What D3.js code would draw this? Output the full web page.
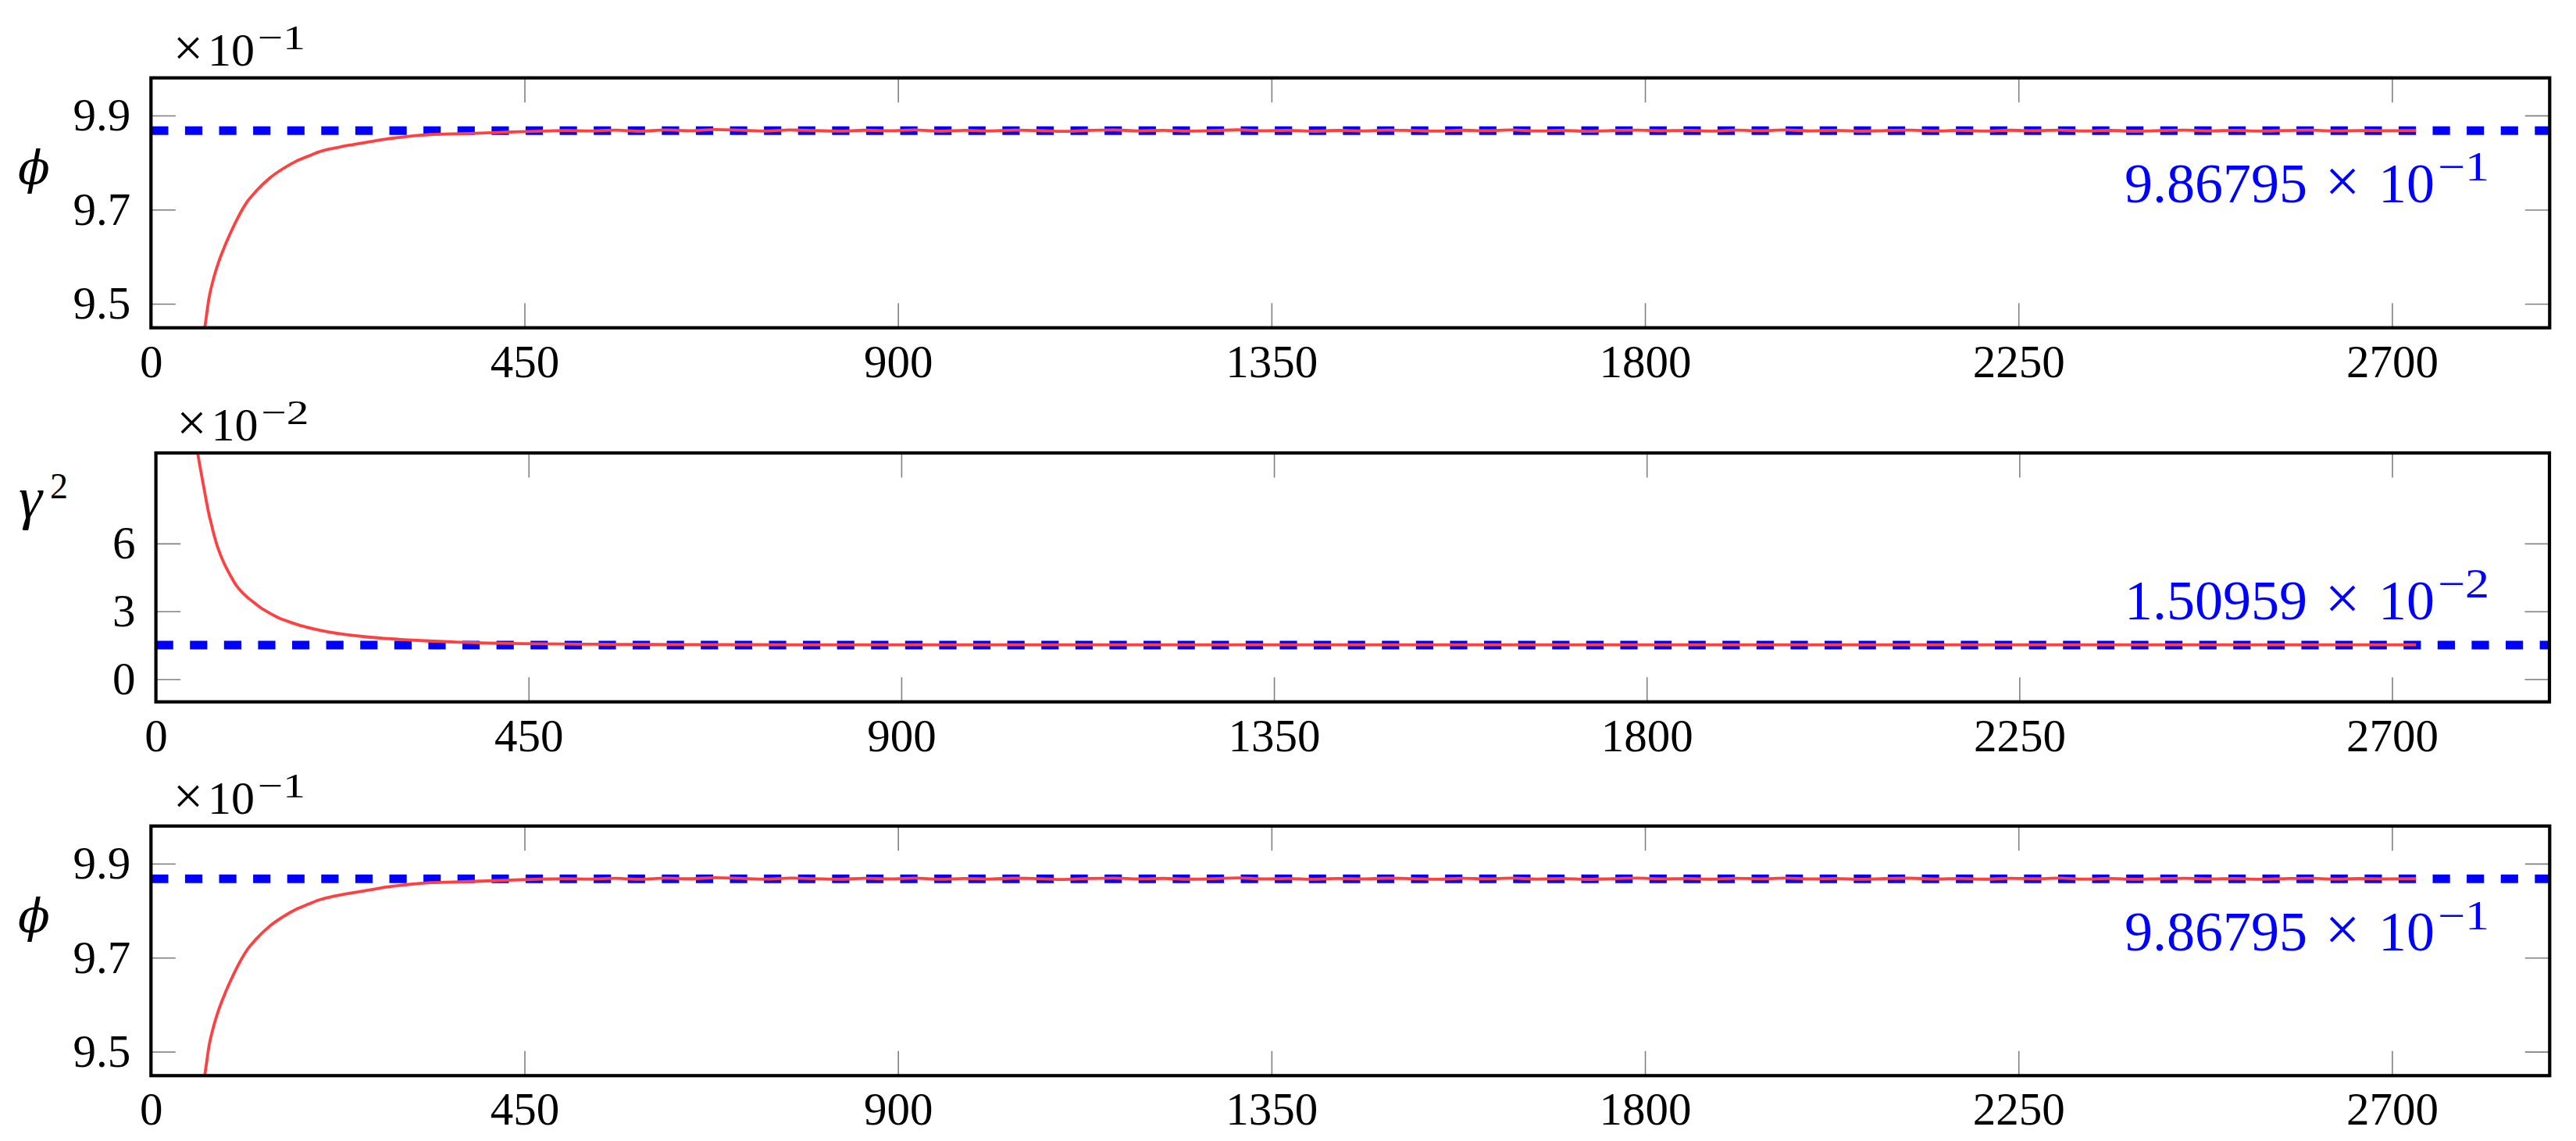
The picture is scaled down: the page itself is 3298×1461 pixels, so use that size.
<!DOCTYPE html>
<html>
<head>
<meta charset="utf-8">
<script src="https://cdn.jsdelivr.net/npm/d3@7"></script>
<style>
html,body{margin:0;padding:0;background:#fff;}
svg{display:block;}
</style>
</head>
<body>
<svg id="chart" width="3298" height="1461"></svg>
<script>
// ---------------- data ----------------
const xTicks = [0, 450, 900, 1350, 1800, 2250, 2700];
const xTickLabels = ["0", "450", "900", "1350", "1800", "2250", "2700"];
const xDomain = [0, 2890];

const phiTicks = [9.5, 9.7, 9.9];
const phiTickLabels = ["9.5", "9.7", "9.9"];
const phiDomain = [9.449, 9.980];
const phiRef = 9.86795;   // x 10^-1
const phiExp = "−1";

const gammaTicks = [0, 3, 6];
const gammaTickLabels = ["0", "3", "6"];
const gammaDomain = [-1, 10];
const gammaRef = 1.50959; // x 10^-2
const gammaExp = "−2";

// phi (x 10^-1) vs iteration
const phiX = [62, 65, 70, 75, 81, 89, 97, 105, 116, 127, 143, 159, 175, 190, 202, 216, 229, 243, 256, 270,
  283, 297, 310, 324, 337, 364, 391, 418, 445, 472, 500, 530, 560, 590, 620, 650, 680, 710, 740, 770,
  800, 830, 860, 890, 920, 950, 980, 1010, 1040, 1070, 1100, 1130, 1160, 1190, 1220, 1250, 1280, 1310, 1340, 1370,
  1400, 1430, 1460, 1490, 1520, 1550, 1580, 1610, 1640, 1670, 1700, 1730, 1760, 1790, 1820, 1850, 1880, 1910, 1940, 1970,
  2000, 2030, 2060, 2090, 2120, 2150, 2180, 2210, 2240, 2270, 2300, 2330, 2360, 2390, 2420, 2450, 2480, 2510, 2540, 2570,
  2600, 2630, 2660, 2690, 2729];
const phiY = [9.420, 9.452, 9.513, 9.551, 9.586, 9.623, 9.655, 9.684, 9.717, 9.740, 9.767, 9.787, 9.803, 9.814, 9.8225, 9.829, 9.8336, 9.838, 9.842, 9.846,
  9.850, 9.853, 9.8557, 9.858, 9.8596, 9.861, 9.8624, 9.864, 9.8657, 9.867, 9.8680, 9.8672, 9.8688, 9.8666, 9.8692, 9.8678, 9.8702, 9.8688, 9.8670, 9.8692,
  9.8680, 9.8668, 9.8687, 9.8676, 9.8693, 9.8667, 9.8684, 9.8673, 9.8690, 9.8679, 9.8664, 9.8683, 9.8693, 9.8674, 9.8686, 9.8669, 9.8680, 9.8696, 9.8676, 9.8685,
  9.8667, 9.8683, 9.8674, 9.8690, 9.8680, 9.8668, 9.8687, 9.8677, 9.8692, 9.8672, 9.8685, 9.8665, 9.8680, 9.8691, 9.8675, 9.8684, 9.8669, 9.8688, 9.8677, 9.8693,
  9.8674, 9.8685, 9.8667, 9.8682, 9.8690, 9.8673, 9.8684, 9.8669, 9.8687, 9.8678, 9.8691, 9.8671, 9.8683, 9.8667, 9.8680, 9.8689, 9.8674, 9.8684, 9.8668, 9.8680,
  9.8688, 9.8672, 9.8682, 9.8676, 9.8680];

// gamma^2 (x 10^-2) vs iteration
const gammaX = [46, 50.7, 54, 57, 60, 64, 67, 70, 74, 78, 82, 86, 90, 97, 103, 111, 118, 127, 137, 148,
  160, 175, 190, 208, 230, 252, 275, 300, 330, 360, 400, 441, 490, 549, 600, 657, 720, 793, 900, 1000,
  1100, 1200, 1300, 1400, 1500, 1600, 1700, 1800, 1900, 2000, 2100, 2200, 2300, 2400, 2500, 2600, 2729];
const gammaY = [11.20, 9.95, 9.25, 8.65, 8.05, 7.30, 6.85, 6.40, 5.90, 5.50, 5.15, 4.85, 4.58, 4.15, 3.88, 3.60, 3.40, 3.15, 2.93, 2.72,
  2.55, 2.37, 2.23, 2.09, 1.97, 1.88, 1.81, 1.75, 1.69, 1.645, 1.60, 1.575, 1.555, 1.542, 1.535, 1.530, 1.527, 1.525, 1.523, 1.524,
  1.522, 1.524, 1.523, 1.525, 1.522, 1.524, 1.523, 1.525, 1.522, 1.524, 1.523, 1.524, 1.522, 1.525, 1.523, 1.524, 1.524];

// ---------------- layout ----------------
const FONT = "'Liberation Serif', 'DejaVu Serif', serif";
const svg = d3.select("#chart");
svg.append("rect").attr("width", 3298).attr("height", 1461).attr("fill", "#fff");

const panels = [
  { id: "p1", left: 193.3, right: 3264.3, top: 99.7, bottom: 419.7,
    xs: phiX, ys: phiY, domain: phiDomain, ticks: phiTicks, tickLabels: phiTickLabels,
    ref: phiRef, exp: phiExp, label: "phi",
    mult: { x: 241, base: 83.5, sup: 63 },
    ann: { base: 258.5, sup: 231 },
    ylab: { base: 236 } },
  { id: "p2", left: 199.6, right: 3264.0, top: 580, bottom: 898.7,
    xs: gammaX, ys: gammaY, domain: gammaDomain, ticks: gammaTicks, tickLabels: gammaTickLabels,
    ref: gammaRef, exp: gammaExp, label: "gamma",
    mult: { x: 245.5, base: 564.3, sup: 543 },
    ann: { base: 793, sup: 765 },
    ylab: { base: 663, sup: 638 } },
  { id: "p3", left: 193.3, right: 3264.3, top: 1057.7, bottom: 1377.3,
    xs: phiX, ys: phiY, domain: phiDomain, ticks: phiTicks, tickLabels: phiTickLabels,
    ref: phiRef, exp: phiExp, label: "phi",
    mult: { x: 241, base: 1041.7, sup: 1020.7 },
    ann: { base: 1216.5, sup: 1190 },
    ylab: { base: 1194 } }
];

const TICK = 31.5;

panels.forEach(p => {
  const g = svg.append("g");
  const x = d3.scaleLinear().domain(xDomain).range([p.left, p.right]);
  const y = d3.scaleLinear().domain(p.domain).range([p.bottom, p.top]);

  g.append("clipPath").attr("id", "clip-" + p.id)
    .append("rect").attr("x", p.left).attr("y", p.top)
    .attr("width", p.right - p.left).attr("height", p.bottom - p.top);

  // axes (ticks inside, gray)
  const styleAxis = sel => {
    sel.attr("font-family", FONT);
    sel.select(".domain").remove();
    sel.selectAll(".tick line").attr("stroke", "#808080").attr("stroke-width", 1.6);
    sel.selectAll(".tick text").attr("fill", "#000").attr("font-family", FONT).attr("font-size", 59);
  };
  g.append("g").attr("transform", `translate(0,${p.bottom})`)
    .call(d3.axisBottom(x).tickValues(xTicks).tickFormat((d, i) => xTickLabels[i]).tickSize(-TICK).tickPadding(21))
    .call(styleAxis);
  g.append("g").attr("transform", `translate(0,${p.top})`)
    .call(d3.axisTop(x).tickValues(xTicks).tickFormat("").tickSize(-TICK))
    .call(styleAxis);
  g.append("g").attr("transform", `translate(${p.left},0)`)
    .call(d3.axisLeft(y).tickValues(p.ticks).tickFormat((d, i) => p.tickLabels[i]).tickSize(-TICK).tickPadding(26))
    .call(styleAxis);
  g.append("g").attr("transform", `translate(${p.right},0)`)
    .call(d3.axisRight(y).tickValues(p.ticks).tickFormat("").tickSize(-TICK))
    .call(styleAxis);

  const plot = g.append("g").attr("clip-path", `url(#clip-${p.id})`);
  const refLine = d3.line().x(d => x(d[0])).y(d => y(d[1]));
  const dataLine = d3.line().x(d => x(d[0])).y(d => y(d[1])).curve(d3.curveMonotoneX);

  // reference dashed line
  plot.append("path")
    .datum([[xDomain[0], p.ref], [xDomain[1], p.ref]])
    .attr("d", refLine)
    .attr("fill", "none").attr("stroke", "#0000ff").attr("stroke-width", 11)
    .attr("stroke-dasharray", "22.2,21.4");

  // data line
  const pts = p.xs.map((v, i) => [v, p.ys[i]]);
  plot.append("path")
    .datum(pts)
    .attr("d", dataLine)
    .attr("fill", "none").attr("stroke", "#ff4040").attr("stroke-width", 3.8)
    .attr("stroke-linejoin", "round");

  // frame
  g.append("rect").attr("x", p.left).attr("y", p.top)
    .attr("width", p.right - p.left).attr("height", p.bottom - p.top)
    .attr("fill", "none").attr("stroke", "#000").attr("stroke-width", 4.2);

  // multiplier  ×10^-n
  g.append("text").attr("x", p.mult.x).attr("y", p.mult.base)
    .attr("text-anchor", "middle").attr("font-family", FONT).attr("font-size", 68).text("×");
  g.append("text").attr("x", p.mult.x + 25).attr("y", p.mult.base)
    .attr("font-family", FONT).attr("font-size", 60).text("10");
  g.append("text").attr("x", p.mult.x + 89).attr("y", p.mult.sup)
    .attr("font-family", FONT).attr("font-size", 44)
    .attr("textLength", 61).attr("lengthAdjust", "spacingAndGlyphs").text(p.exp);

  // annotation of the reference value
  const ann = g.append("g").attr("fill", "#0000ff").attr("font-family", FONT);
  ann.append("text").attr("x", 2720).attr("y", p.ann.base).attr("font-size", 72).text(p.ref.toFixed(5));
  ann.append("text").attr("x", 2999).attr("y", p.ann.base).attr("text-anchor", "middle").attr("font-size", 80).text("×");
  ann.append("text").attr("x", 3045).attr("y", p.ann.base).attr("font-size", 72).text("10");
  ann.append("text").attr("x", 3121).attr("y", p.ann.sup).attr("font-size", 52)
    .attr("textLength", 66).attr("lengthAdjust", "spacingAndGlyphs").text(p.exp);

  // y label
  if (p.label === "phi") {
    g.append("text").attr("x", 43.5).attr("y", p.ylab.base).attr("text-anchor", "middle")
      .attr("font-family", "'DejaVu Serif', serif").attr("font-style", "italic")
      .attr("font-size", 60).text("ϕ");
  } else {
    g.append("text").attr("x", 24).attr("y", p.ylab.base)
      .attr("font-family", FONT).attr("font-style", "italic").attr("font-size", 76).text("γ");
    g.append("text").attr("x", 64).attr("y", p.ylab.sup)
      .attr("font-family", FONT).attr("font-size", 46).text("2");
  }
});
</script>
</body>
</html>
